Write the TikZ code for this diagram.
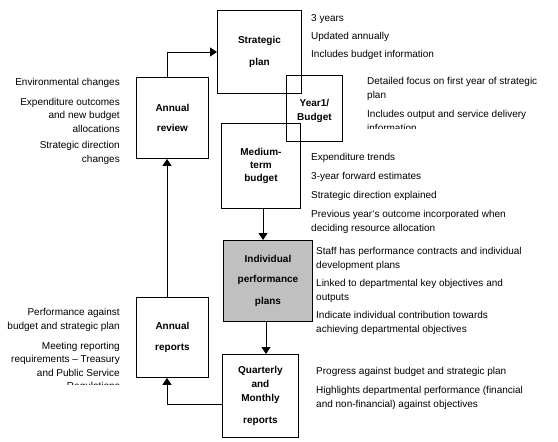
\documentclass[tikz,border=0pt]{standalone}
\usepackage{fontspec}
\setmainfont{Liberation Sans}
\usetikzlibrary{arrows.meta}
\begin{document}
\begin{tikzpicture}[x=1pt,y=-1pt,
  box/.style={draw=black,line width=0.9pt,anchor=north west,inner sep=0pt,align=center,
    font=\fontsize{10}{14}\selectfont\bfseries},
  note/.style={inner sep=0pt,anchor=base west,font=\fontsize{10}{12}\selectfont},
  lnote/.style={inner sep=0pt,anchor=base east,font=\fontsize{10}{12}\selectfont},
  conn/.style={line width=0.9pt},
  arr/.style={line width=0.9pt,-{Triangle[length=7pt,width=9pt]}}]
\useasboundingbox (0,0) rectangle (558,442);
% boxes
\node[box,minimum width=84pt,minimum height=83pt] (sp) at (217,10) {Strategic\\[8pt]plan};
\node[box,minimum width=56pt,minimum height=66pt] (yb) at (286,75) {\\[-2pt]Year1/\\Budget};
\node[box,minimum width=79pt,minimum height=85pt] (mt) at (221,123) {Medium-\\[-1pt]term\\[-1pt]budget};
\node[box,minimum width=89pt,minimum height=81pt,fill={rgb,255:red,192;green,192;blue,192}] (ip) at (223,240) {Individual\\[6pt]performance\\[8pt]plans};
\node[box,minimum width=76pt,minimum height=83pt] (qm) at (222,354) {Quarterly\\and\\Monthly\\[8pt]reports};
\node[box,minimum width=72pt,minimum height=81pt] (ar) at (136,77) {Annual\\[6pt]review};
\node[box,minimum width=72pt,minimum height=80pt] (rp) at (136,297) {Annual\\[7pt]reports};
% connectors
\coordinate (lx) at (167,0);
\coordinate (top) at (167,52);
\coordinate (bot) at (167,404);
\draw[arr] (ar.north -| lx) -- (top) -- (top -| sp.west);
\draw[arr] (rp.north -| lx) -- (ar.south -| lx);
\draw[arr] (qm.west |- bot) -- (bot) -- (rp.south -| lx);
\coordinate (mx) at (263,0);
\draw[arr] (mt.south -| mx) -- (ip.north -| mx);
\coordinate (ix) at (266,0);
\draw[arr] (ip.south -| ix) -- (qm.north -| ix);
% notes
\foreach \y/\t [count=\i] in {21/{3 years},39.5/{Updated annually},57/{Includes budget information},
  160.5/{Expenditure trends},179.5/{3-year forward estimates},198.5/{Strategic direction explained},
  217.5/{Previous year`s outcome incorporated when},231.5/{deciding resource allocation}}
  \node[note] (na\i) at (311,\y) {\t};
\foreach \y/\t [count=\i] in {254/{Staff has performance contracts and individual},268/{development plans},
  286.5/{Linked to departmental key objectives and},300.5/{outputs},
  318.5/{Indicate individual contribution towards},332.5/{achieving departmental objectives},
  374/{Progress against budget and strategic plan},393/{Highlights departmental performance (financial},
  407/{and non-financial) against objectives}}
  \node[note] (nb\i) at (316,\y) {\t};
\begin{scope}
\clip (360,70) rectangle (558,128.5);
\foreach \y/\t [count=\i] in {84/{Detailed focus on first year of strategic},98/{plan},
  117/{Includes output and service delivery},131/{information}}
  \node[note] (nc\i) at (367,\y) {\t};
\end{scope}
\foreach \y/\t [count=\i] in {85/{Environmental changes},105/{Expenditure outcomes},118.5/{and new budget},
  132/{allocations},148/{Strategic direction},162/{changes},
  315/{Performance against},329/{budget and strategic plan},349/{Meeting reporting},
  362.5/{requirements – Treasury},376/{and Public Service}}
  \node[lnote] (nd\i) at (120,\y) {\t};
\begin{scope}
\clip (0,381) rectangle (130,384.5);
\node[lnote] (ne1) at (120,389.5) {Regulations};
\end{scope}
\end{tikzpicture}
\end{document}
